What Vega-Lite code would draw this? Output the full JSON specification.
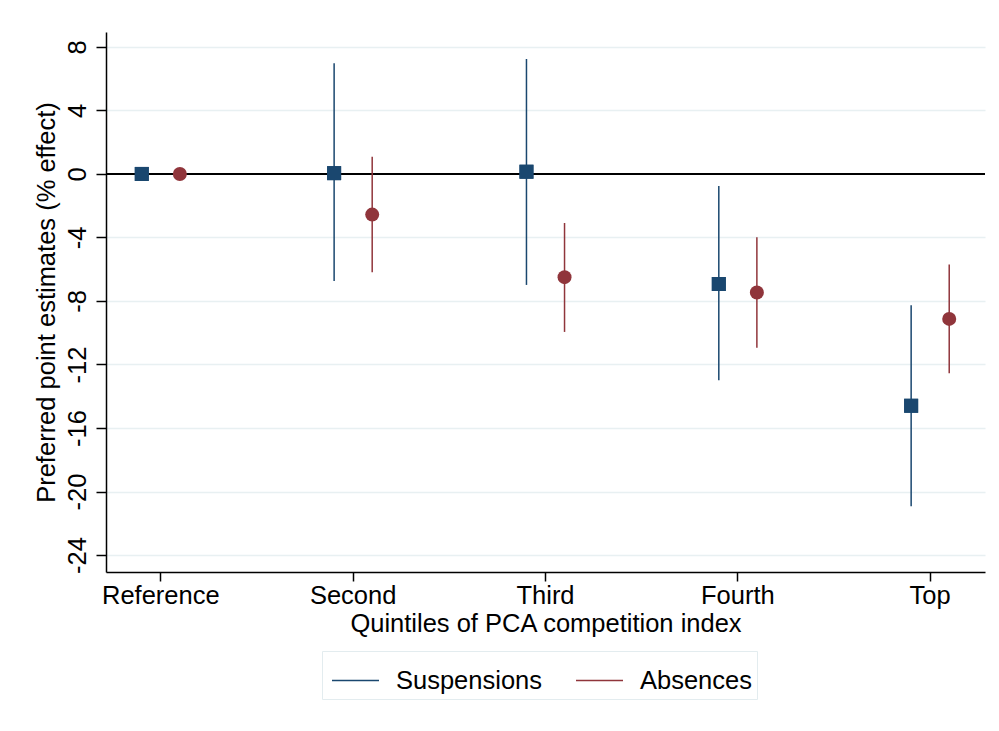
{
  "$schema": "https://vega.github.io/schema/vega-lite/v6.json",
  "width": 879,
  "height": 540,
  "autosize": {"type": "none"},
  "padding": {"left": 106, "top": 32, "right": 14, "bottom": 159},
  "background": "white",
  "config": {
    "font": "Liberation Sans",
    "view": {"stroke": null},
    "axis": {"labelColor": "black", "titleColor": "black", "titleFontWeight": "normal", "labelFontSize": 25.5, "titleFontSize": 25.5, "domainColor": "black", "domainWidth": 1.5, "tickColor": "black", "tickWidth": 1.5}
  },
  "data": {"values": [
    {"quintile": "Reference", "series": "Suspensions", "est": 0},
    {"quintile": "Reference", "series": "Absences", "est": 0},
    {"quintile": "Second", "series": "Suspensions", "est": 0.05, "lo": -6.74, "hi": 6.97},
    {"quintile": "Second", "series": "Absences", "est": -2.56, "lo": -6.19, "hi": 1.09},
    {"quintile": "Third", "series": "Suspensions", "est": 0.14, "lo": -6.99, "hi": 7.24},
    {"quintile": "Third", "series": "Absences", "est": -6.5, "lo": -9.95, "hi": -3.09},
    {"quintile": "Fourth", "series": "Suspensions", "est": -6.93, "lo": -13.0, "hi": -0.76},
    {"quintile": "Fourth", "series": "Absences", "est": -7.47, "lo": -10.94, "hi": -3.99},
    {"quintile": "Top", "series": "Suspensions", "est": -14.6, "lo": -20.93, "hi": -8.27},
    {"quintile": "Top", "series": "Absences", "est": -9.13, "lo": -12.56, "hi": -5.71}
  ]},
  "layer": [
    {
      "mark": {"type": "rule", "color": "black", "strokeWidth": 1.5},
      "encoding": {"y": {"datum": 0, "type": "quantitative"}}
    },
    {
      "mark": {"type": "point", "filled": true, "opacity": 1, "size": 196, "shape": "square", "color": "#1a476f"},
      "transform": [{"filter": "datum.series === 'Suspensions'"}],
      "encoding": {
        "x": {"field": "quintile", "type": "nominal", "sort": ["Reference", "Second", "Third", "Fourth", "Top"], "title": "Quintiles of PCA competition index",
          "scale": {"type": "band", "paddingInner": 0.5, "paddingOuter": 0.035},
          "axis": {"labelAngle": 0, "tickSize": 9, "labelPadding": 2, "titlePadding": 3, "grid": false}},
        "xOffset": {"field": "series", "type": "nominal", "sort": ["Suspensions", "Absences"], "scale": {"domain": ["Suspensions", "Absences"], "paddingInner": 0, "paddingOuter": 0.263}},
        "y": {"field": "est", "type": "quantitative", "title": "Preferred point estimates (% effect)",
          "scale": {"domain": [-25.07, 8.94], "nice": false, "zero": false},
          "axis": {"values": [8, 6, 4, 2, 0, -2, -4, -6, -8, -10, -12, -14, -16, -18, -20, -22, -24],
            "labelExpr": "datum.value % 4 === 0 ? '' + datum.value : ''",
            "labelAngle": -90, "labelAlign": "center", "labelBaseline": "bottom", "labelPadding": 6, "tickSize": 10,
            "grid": true, "gridColor": "#e8f0f2", "gridWidth": 1.5,
            "gridOpacity": {"condition": {"test": "datum.value % 4 !== 0 || datum.value === 0", "value": 0}, "value": 1},
            "titlePadding": 6}}
      }
    },
    {
      "transform": [{"filter": "isValid(datum.lo)"}],
      "mark": {"type": "rule", "strokeWidth": 1.5},
      "encoding": {
        "x": {"field": "quintile", "type": "nominal", "sort": ["Reference", "Second", "Third", "Fourth", "Top"]},
        "xOffset": {"field": "series", "type": "nominal", "sort": ["Suspensions", "Absences"]},
        "y": {"field": "lo", "type": "quantitative"},
        "y2": {"field": "hi"},
        "color": {"field": "series", "type": "nominal", "scale": {"domain": ["Suspensions", "Absences"], "range": ["#1a476f", "#90353b"]},
          "legend": {"title": null, "orient": "none", "legendX": 216, "legendY": 619, "direction": "horizontal", "symbolType": "stroke", "symbolSize": 2209, "symbolStrokeWidth": 1.5, "symbolOffset": 4, "labelFontSize": 25.5, "labelColor": "black", "labelOffset": 16, "columnPadding": 28, "padding": 5, "strokeColor": "#e3ecef", "labelLimit": 300}}
      }
    },
    {
      "mark": {"type": "point", "filled": true, "opacity": 1, "size": 196, "shape": "square", "color": "#1a476f"},
      "transform": [{"filter": "datum.series === 'Suspensions'"}],
      "encoding": {
        "x": {"field": "quintile", "type": "nominal", "sort": ["Reference", "Second", "Third", "Fourth", "Top"]},
        "xOffset": {"field": "series", "type": "nominal", "sort": ["Suspensions", "Absences"]},
        "y": {"field": "est", "type": "quantitative"}
      }
    },
    {
      "mark": {"type": "point", "filled": true, "opacity": 1, "size": 196, "shape": "circle", "color": "#90353b"},
      "transform": [{"filter": "datum.series === 'Absences'"}],
      "encoding": {
        "x": {"field": "quintile", "type": "nominal", "sort": ["Reference", "Second", "Third", "Fourth", "Top"]},
        "xOffset": {"field": "series", "type": "nominal", "sort": ["Suspensions", "Absences"]},
        "y": {"field": "est", "type": "quantitative"}
      }
    }
  ]
}
